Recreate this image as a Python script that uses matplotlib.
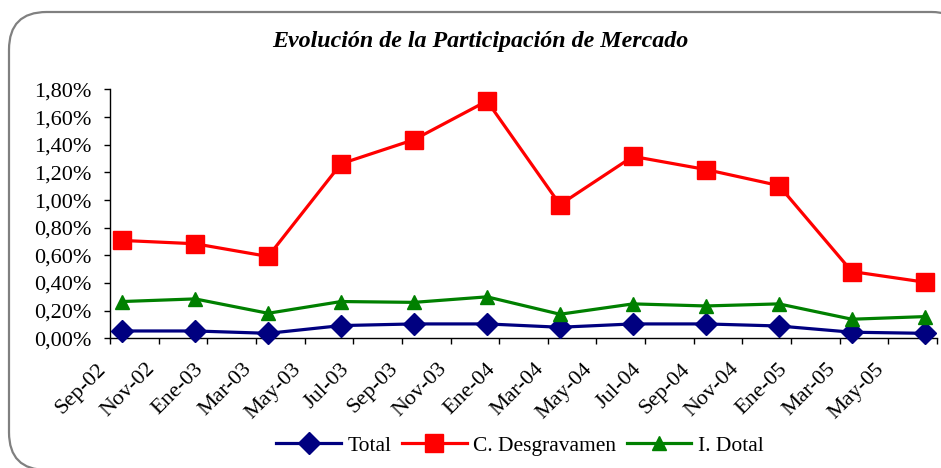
import matplotlib
matplotlib.use("Agg")
import matplotlib.pyplot as plt
from matplotlib.ticker import FuncFormatter, FixedLocator
from matplotlib.patches import FancyBboxPatch

# ---- data ----
periods = ["2002-09", "2002-12", "2003-03", "2003-06", "2003-09", "2003-12",
           "2004-03", "2004-06", "2004-09", "2004-12", "2005-03", "2005-06"]
total = [0.053, 0.053, 0.036, 0.092, 0.104, 0.104, 0.080, 0.104, 0.104, 0.089, 0.044, 0.036]
desgravamen = [0.708, 0.684, 0.592, 1.263, 1.437, 1.717, 0.967, 1.316, 1.221, 1.105, 0.483, 0.406]
dotal = [0.266, 0.285, 0.181, 0.266, 0.260, 0.300, 0.174, 0.249, 0.234, 0.249, 0.138, 0.157]
tick_labels = ["Sep-02", "Nov-02", "Ene-03", "Mar-03", "May-03", "Jul-03", "Sep-03",
               "Nov-03", "Ene-04", "Mar-04", "May-04", "Jul-04", "Sep-04", "Nov-04",
               "Ene-05", "Mar-05", "May-05"]
axis_start = "2002-09"
axis_end = "2005-07"
y_ticks = [0.0, 0.2, 0.4, 0.6, 0.8, 1.0, 1.2, 1.4, 1.6, 1.8]


def month_index(s):
    y, m = s.split("-")
    y0, m0 = axis_start.split("-")
    return (int(y) - int(y0)) * 12 + (int(m) - int(m0))


x = [month_index(p) + 0.5 for p in periods]
x_end = month_index(axis_end)

serif = ["Liberation Serif", "DejaVu Serif"]
plt.rcParams["font.family"] = serif

fig = plt.figure(figsize=(9.41, 4.68), dpi=100)

# rounded frame
frame = FancyBboxPatch((9 / 941, 1 - 470 / 468), 960 / 941, 458 / 468,
                       boxstyle="round,pad=0,rounding_size=0.04",
                       transform=fig.transFigure, facecolor="white",
                       edgecolor="#808080", linewidth=1.6, zorder=-5,
                       mutation_aspect=941 / 468)
fig.patches.append(frame)

ax = fig.add_axes([110 / 941, 1 - 338.3 / 468, (937 - 110) / 941, (338.3 - 89.5) / 468])
ax.set_zorder(2)
ax.set_facecolor("none")

ax.plot(x, total, color="#000080", lw=2.3, marker="D", ms=11.5,
        label="Total", zorder=3, clip_on=False)
ax.plot(x, desgravamen, color="#FF0000", lw=2.3, marker="s", ms=13,
        label="C. Desgravamen", zorder=3, clip_on=False)
ax.plot(x, dotal, color="#008000", lw=2.3, marker="^", ms=10,
        label="I. Dotal", zorder=3, clip_on=False)

ax.set_xlim(0, x_end)
ax.set_ylim(y_ticks[0], y_ticks[-1])

major = list(range(0, x_end + 1, 2))
ax.xaxis.set_major_locator(FixedLocator(major))
ax.set_xticklabels(tick_labels + [""] * (len(major) - len(tick_labels)))
for lab in ax.get_xticklabels():
    lab.set_rotation(45)
    lab.set_ha("right")
    lab.set_va("bottom")
    lab.set_rotation_mode("anchor")

ax.set_yticks(y_ticks)
ax.yaxis.set_major_formatter(FuncFormatter(lambda v, p: f"{v:.2f}%".replace(".", ",")))

ax.spines["top"].set_visible(False)
ax.spines["right"].set_visible(False)
for s in ("left", "bottom"):
    ax.spines[s].set_linewidth(1.0)
    ax.spines[s].set_color("black")
ax.tick_params(axis="both", direction="out", length=4, width=1.0, labelsize=16, colors="black")
ax.tick_params(axis="y", pad=9)
ax.tick_params(axis="x", pad=21)

fig.text(480 / 941, 1 - 41 / 468, "Evolución de la Participación de Mercado",
         ha="center", va="center", fontsize=17.3, fontweight="bold", style="italic",
         family=serif)

leg = fig.legend(loc="center", bbox_to_anchor=(520 / 941, 1 - 446 / 468), ncol=3,
                 frameon=False, fontsize=15.5, handlelength=3.0, handletextpad=0.3,
                 columnspacing=0.5, borderpad=0)

fig.savefig("out.png", dpi=100)
